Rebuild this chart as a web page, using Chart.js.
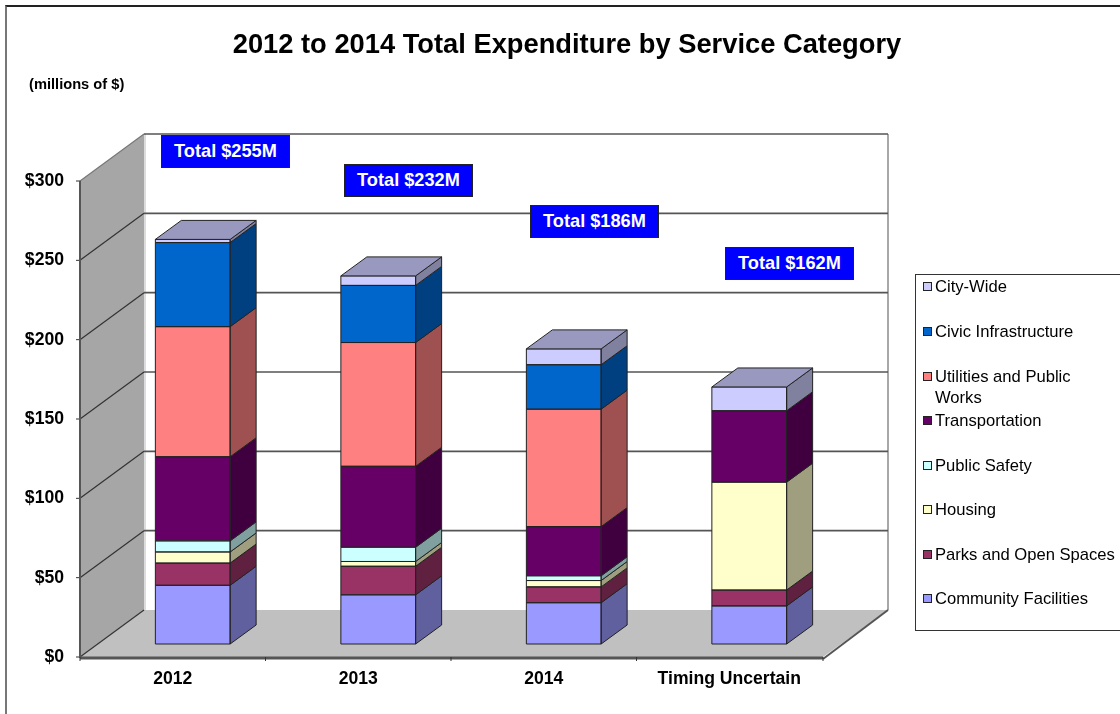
<!DOCTYPE html>
<html>
<head>
<meta charset="utf-8">
<title>2012 to 2014 Total Expenditure by Service Category</title>
<script src="https://cdn.jsdelivr.net/npm/chart.js@4"></script>
<style>
  html, body { margin: 0; padding: 0; background: #fff; width: 1120px; height: 714px; overflow: hidden; }
  body { position: relative; font-family: "Liberation Sans", Arial, sans-serif; color: #000; }
  canvas { position: absolute; left: 0; top: 0; }
  #frame { position: absolute; left: 5px; top: 5px; width: 1200px; height: 800px; border-left: 2px solid #777; border-top: 2px solid #222; }
  #title { position: absolute; left: 167px; width: 800px; top: 27px; text-align: center; font-weight: bold; font-size: 27.3px; line-height: 34px; white-space: nowrap; }
  #unit { position: absolute; left: 29px; top: 76px; font-weight: bold; font-size: 14.67px; line-height: 16px; white-space: nowrap; }
  .total { position: absolute; width: 127px; height: 31px; background: #0000ff; border: 1px solid #222; color: #fff; font-weight: bold; font-size: 18.2px; line-height: 31px; text-align: center; white-space: nowrap; }
  #legend { position: absolute; left: 915px; top: 274px; width: 300px; height: 355px; background: #fff; border: 1px solid #333; }
  .item { position: absolute; left: 19px; font-size: 16.6px; line-height: 21px; white-space: nowrap; }
  .item.wrap { white-space: normal; width: 150px; }
  .swatch { position: absolute; left: -12px; top: 6px; width: 7px; height: 7px; border: 1px solid #222; }
</style>
</head>
<body>
<canvas id="chart" width="1120" height="714"></canvas>
<div id="frame"></div>
<div id="title">2012 to 2014 Total Expenditure by Service Category</div>
<div id="unit">(millions of $)</div>
<div id="legend"></div>
<script>
// Categories and expenditure by service, in millions of dollars
const categories = ['2012', '2013', '2014', 'Timing Uncertain'];
const totals = [255, 232, 186, 162];

const communityFacilities = [37, 31, 26, 24];
const parksOpenSpaces = [14, 18, 10, 10];
const housing = [7, 3, 4, 68];
const publicSafety = [7, 9, 3, 0];
const transportation = [53, 51, 31, 45];
const utilitiesPublicWorks = [82, 78, 74, 0];
const civicInfrastructure = [53, 36, 28, 0];
const cityWide = [2, 6, 10, 15];

const yTicks = [0, 50, 100, 150, 200, 250, 300];

const seriesStack = [
  ['Community Facilities', communityFacilities, [153, 153, 255]],
  ['Parks and Open Spaces', parksOpenSpaces, [153, 51, 102]],
  ['Housing', housing, [255, 255, 204]],
  ['Public Safety', publicSafety, [204, 255, 255]],
  ['Transportation', transportation, [102, 0, 102]],
  ['Utilities and Public Works', utilitiesPublicWorks, [255, 128, 128]],
  ['Civic Infrastructure', civicInfrastructure, [0, 102, 204]],
  ['City-Wide', cityWide, [204, 204, 255]]
];

// Left edge and top edge of each floating total box
const totalBoxes = [[161, 135], [344, 164], [530, 205], [725, 247]];

// Pseudo-3D offsets relative to the plane the bars stand on
const FRONT = { dx: -20, dy: 13 };
const BACK = { dx: 44, dy: -34 };
const BAR_DEPTH = { dx: 26, dy: -19 };

const rgb = (c, k = 1) => `rgb(${c.map(v => Math.round(v * k)).join(',')})`;

function poly(ctx, pts, fill, stroke, lw) {
  ctx.beginPath();
  pts.forEach((p, i) => i ? ctx.lineTo(p[0], p[1]) : ctx.moveTo(p[0], p[1]));
  ctx.closePath();
  if (fill) { ctx.fillStyle = fill; ctx.fill(); }
  if (stroke) { ctx.strokeStyle = stroke; ctx.lineWidth = lw || 1; ctx.stroke(); }
}

function line(ctx, x1, y1, x2, y2, color, lw) {
  ctx.beginPath();
  ctx.moveTo(x1, y1);
  ctx.lineTo(x2, y2);
  ctx.strokeStyle = color;
  ctx.lineWidth = lw;
  ctx.stroke();
}

// Walls, floor, gridlines and axis lines behind the columns
const chartBox = {
  id: 'chartBox',
  beforeDatasetsDraw(chart) {
    const { ctx, scales: { x, y } } = chart;
    const l = x.left, r = x.right;
    const y0 = y.getPixelForValue(0), yMax = y.getPixelForValue(300);
    const fl = l + FRONT.dx, fr = r + FRONT.dx + 1, bl = l + BACK.dx, br = r + BACK.dx + 2;
    const f0 = y0 + FRONT.dy, fT = yMax + FRONT.dy, b0 = y0 + BACK.dy, bT = yMax + BACK.dy;
    ctx.save();
    poly(ctx, [[fl, fT], [bl, bT], [bl, b0], [fl, f0]], '#a6a6a6');
    poly(ctx, [[fl, f0], [bl, b0], [br, b0], [fr, f0]], '#c0c0c0');
    line(ctx, bl + 1, bT, bl + 1, b0, '#dcdcdc', 2);
    line(ctx, br, bT, br, b0, '#a8a8a8', 2);
    yTicks.forEach(v => {
      const p = y.getPixelForValue(v);
      line(ctx, l + FRONT.dx, p + FRONT.dy, bl, p + BACK.dy, v === 300 ? '#777' : '#333', 1.2);
      if (v > 0) line(ctx, bl, p + BACK.dy, br, p + BACK.dy, '#555', 1.6);
      line(ctx, fl - 4, p + FRONT.dy, fl, p + FRONT.dy, '#333', 1);
    });
    line(ctx, fl, fT, fl, f0 + 1, '#555', 2);
    line(ctx, fl, f0 + 1, fr, f0 + 1, '#555', 3);
    line(ctx, fr, f0 + 2, br, b0, '#555', 2);
    categories.forEach((_, i) => {
      const tx = fl + (r - l) * i / categories.length;
      line(ctx, tx, f0, tx, f0 + 4, '#333', 1);
    });
    line(ctx, fr, f0, fr, f0 + 4, '#333', 1);
    ctx.restore();
  },
  // Outlines, side faces and top faces of every stacked segment
  afterDatasetsDraw(chart) {
    const { ctx } = chart;
    const edge = '#222';
    ctx.save();
    chart.data.datasets.forEach((ds, d) => {
      const color = seriesStack[d][2];
      chart.getDatasetMeta(d).data.forEach(bar => {
        if (Math.abs(bar.base - bar.y) < 0.5) return;
        const xl = bar.x - bar.width / 2, xr = bar.x + bar.width / 2;
        poly(ctx, [[xr, bar.y], [xr + BAR_DEPTH.dx, bar.y + BAR_DEPTH.dy],
          [xr + BAR_DEPTH.dx, bar.base + BAR_DEPTH.dy], [xr, bar.base]], rgb(color, 0.625), edge, 1);
        poly(ctx, [[xl, bar.y], [xr, bar.y], [xr, bar.base], [xl, bar.base]], null, edge, 1);
      });
    });
    const n = chart.data.datasets.length;
    const top = chart.getDatasetMeta(n - 1).data;
    top.forEach(bar => {
      const xl = bar.x - bar.width / 2, xr = bar.x + bar.width / 2;
      poly(ctx, [[xl, bar.y], [xl + BAR_DEPTH.dx, bar.y + BAR_DEPTH.dy],
        [xr + BAR_DEPTH.dx, bar.y + BAR_DEPTH.dy], [xr, bar.y]], rgb(seriesStack[n - 1][2], 0.75), edge, 1);
    });
    ctx.restore();
  }
};

const tickFont = { family: '"Liberation Sans", Arial, sans-serif', size: 17.6, weight: 'bold' };

new Chart(document.getElementById('chart'), {
  type: 'bar',
  data: {
    labels: categories,
    datasets: seriesStack.map(([label, data, color]) => ({
      label,
      data,
      backgroundColor: rgb(color),
      borderWidth: 0,
      categoryPercentage: 0.403,
      barPercentage: 1
    }))
  },
  options: {
    responsive: false,
    animation: false,
    layout: { padding: { left: 0, top: 168, right: 278, bottom: 0 } },
    plugins: { legend: { display: false }, title: { display: false }, tooltip: { enabled: false } },
    scales: {
      x: {
        stacked: true,
        grid: { display: false, drawTicks: false },
        border: { display: false },
        ticks: { color: '#000', font: tickFont, padding: 25, labelOffset: FRONT.dx, maxRotation: 0, autoSkip: false },
        afterFit(scale) { scale.height = 70; }
      },
      y: {
        stacked: true,
        min: 0,
        max: 300,
        afterBuildTicks(scale) { scale.ticks = yTicks.map(value => ({ value })); },
        grid: { display: false, drawTicks: false },
        border: { display: false },
        ticks: { color: '#000', font: tickFont, padding: 36, labelOffset: FRONT.dy, callback: v => '$' + v },
        afterFit(scale) { scale.width = 100; }
      }
    }
  },
  plugins: [chartBox]
});

// Floating total boxes above the columns
totals.forEach((t, i) => {
  const el = document.createElement('div');
  el.className = 'total';
  el.textContent = `Total $${t}M`;
  el.style.left = totalBoxes[i][0] + 'px';
  el.style.top = totalBoxes[i][1] + 'px';
  document.body.appendChild(el);
});

// Legend, listed from the top of the stack down
const legend = document.getElementById('legend');
[...seriesStack].reverse().forEach(([label, , color], i) => {
  const row = document.createElement('div');
  row.className = 'item' + (label.length > 21 ? ' wrap' : '');
  row.style.top = (1.4 + i * 44.55) + 'px';
  const swatch = document.createElement('span');
  swatch.className = 'swatch';
  swatch.style.background = rgb(color);
  row.appendChild(swatch);
  row.appendChild(document.createTextNode(label));
  legend.appendChild(row);
});
</script>
</body>
</html>
